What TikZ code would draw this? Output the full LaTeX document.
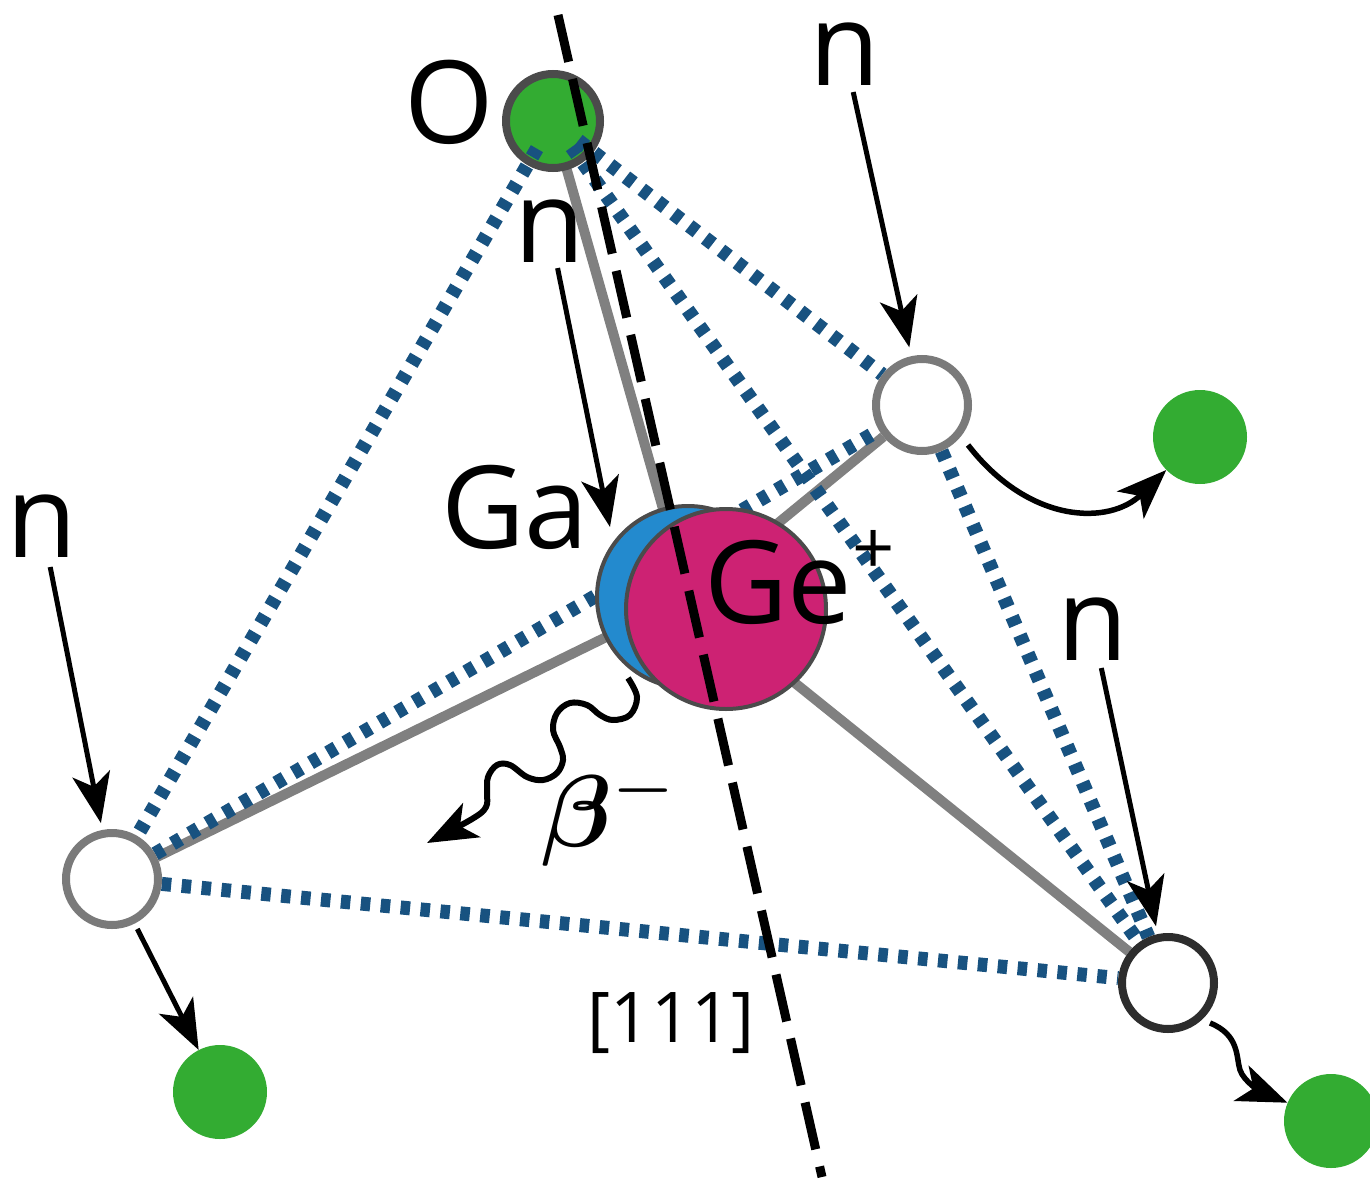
\documentclass[tikz,border=0pt]{standalone}
\usepackage{fontspec}
\setmainfont{Open Sans}
\usepackage{bm}
\usetikzlibrary{arrows.meta}

\definecolor{atomgreen}{RGB}{51,172,50}
\definecolor{gepink}{RGB}{205,34,115}
\definecolor{gablue}{RGB}{35,138,206}
\definecolor{edgeblue}{RGB}{24,82,128}
\definecolor{bondgray}{RGB}{128,128,128}
\definecolor{rimgray}{RGB}{122,122,122}
\definecolor{rimdark}{RGB}{45,45,45}
\definecolor{outline}{RGB}{75,75,75}

\pgfdeclarelayer{bondlayer}
\pgfdeclarelayer{oxygenlayer}
\pgfdeclarelayer{edgelayer}
\pgfsetlayers{bondlayer,oxygenlayer,edgelayer,main}

\begin{document}
\begin{tikzpicture}[x=1pt,y=-1pt,
  vacancy/.style={circle, draw=rimgray, line width=8pt, fill=white, minimum size=92pt, inner sep=0pt},
  greenball/.style={circle, fill=atomgreen, minimum size=94pt, inner sep=0pt},
  bondline/.style={draw=bondgray, line width=10pt},
  tetraedge/.style={draw=edgeblue, line width=14pt, dash pattern=on 9.5pt off 10.5pt},
  axisline/.style={draw=black, line width=9pt, dash pattern=on 48pt off 17.6pt},
  arrowline/.style={-{Stealth[length=50pt,width=38pt,inset=13pt]}, line width=5pt},
  lbl/.style={font=\fontsize{115}{120}\selectfont, inner sep=0pt, anchor=base},
]
\useasboundingbox (0,0) rectangle (1370,1180);

% oxygen at the apex, below the tetrahedron edges
\begin{pgfonlayer}{oxygenlayer}
  \node[circle, draw=outline, line width=8pt, fill=atomgreen, minimum size=94pt, inner sep=0pt] (O) at (553,121) {};
\end{pgfonlayer}

% vacancies at the other three corners
\node[vacancy] (UR) at (922,405) {};
\node[vacancy] (L) at (112,879) {};
\node[vacancy, draw=rimdark] (LR) at (1168,983) {};

% central Ga / Ge+ pair
\node[circle, draw=outline, line width=4pt, fill=gablue, minimum size=182pt, inner sep=0pt] (Ga) at (688,597) {};
\node[circle, draw=outline, line width=4pt, fill=gepink, minimum size=200pt, inner sep=0pt] (Ge) at (726,609) {};

% displaced oxygen atoms
\node[greenball] (gUR) at (1200,437) {};
\node[greenball] (gL) at (220,1092) {};
\node[greenball] (gLR) at (1331,1121) {};

% bonds from the centre to the corners
\begin{pgfonlayer}{bondlayer}
  \draw[bondline] (Ga.center) -- (O.center);
  \draw[bondline] (Ga.center) -- (UR);
  \draw[bondline] (Ga.center) -- (L);
  \draw[bondline] (Ga.center) -- (LR);
\end{pgfonlayer}

% tetrahedron edges
\begin{pgfonlayer}{edgelayer}
  \draw[tetraedge, shorten <=32pt] (O.center) -- (UR);
  \draw[tetraedge, shorten <=32pt] (O.center) -- (L);
  \draw[tetraedge, shorten <=32pt] (O.center) -- (LR);
  \draw[tetraedge] (L) -- (UR);
  \draw[tetraedge] (L) -- (LR);
  \draw[tetraedge] (UR) -- (LR);
\end{pgfonlayer}

% [111] axis
\coordinate (axTop) at (558,15);
\coordinate (axBot) at (822,1177);
\draw[axisline] (axTop) -- (axBot);

% labels
\node[lbl] (oLbl) at (449,143) {O};
\node[lbl] (n1) at (845,86) {n};
\node[lbl] (n2) at (550,262) {n};
\node[lbl] (n3) at (42,557) {n};
\node[lbl] (n4) at (1093,660) {n};
\node[lbl] (gaLbl) at (515,548) {Ga};
\node[lbl, anchor=base west] (geLbl) at (704,623) {Ge\raisebox{49pt}{\fontsize{74}{74}\selectfont +}};
\node[font=\fontsize{70}{80}\selectfont, inner sep=0pt, anchor=base] (dirLbl) at (671,1042) {[111]};
\node[inner sep=0pt, anchor=base] (betaLbl) at (611,846) {\scalebox{10.2}{$\bm{\beta}^{-}$}};

% incoming neutrons
\coordinate (gaTip) at (610,527);
\draw[arrowline, shorten <=6pt, shorten >=9pt] (n1) -- (UR);
\draw[arrowline, shorten <=6pt] (n2) -- (gaTip);
\draw[arrowline, shorten <=10pt, shorten >=7pt] (n3) -- (L);
\draw[arrowline, shorten <=8pt, shorten >=8pt] (n4) -- (LR);

% oxygen recoils
\coordinate (urOut) at (968,445);
\coordinate (lrOut) at (1210,1023);
\draw[arrowline, shorten <=6pt] (L) -- (gL);
\draw[arrowline, line width=5.5pt] (urOut) .. controls (1030,525) and (1110,525) .. (gUR);
\draw[arrowline, line width=5.5pt] (lrOut) .. controls (1240,1035) and (1236,1058) .. (1240,1070)
  .. controls (1244,1082) and (1262,1092) .. (gLR);

% beta emission
\coordinate (betaStart) at (628,678);
\coordinate (betaEnd) at (427,843);
\draw[arrowline, line width=6pt] plot[smooth, tension=0.6] coordinates {
  (betaStart) (637,697) (630,715) (613,720) (600,715) (587,705) (570,703)
  (557,713) (553,730) (560,747) (563,760) (557,773) (543,780) (527,777)
  (510,765) (497,765) (488,777) (487,793) (486,807) (472,819) (betaEnd)};
\end{tikzpicture}
\end{document}
